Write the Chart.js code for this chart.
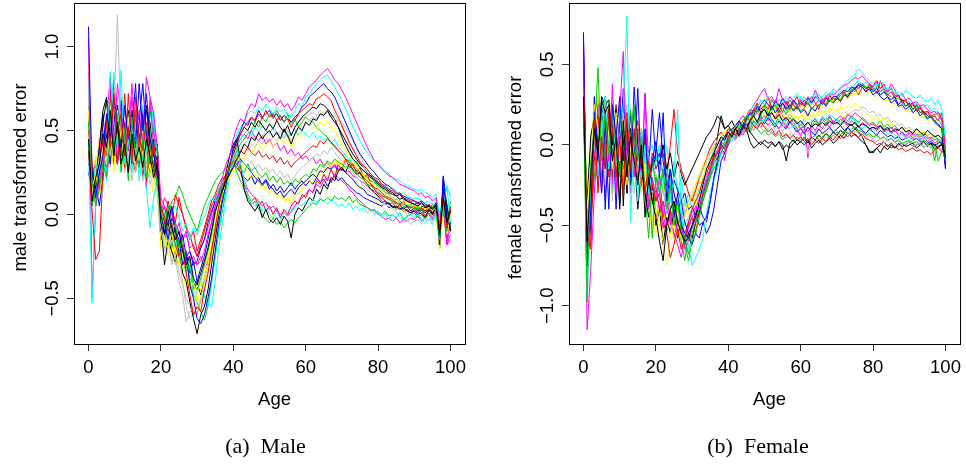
<!DOCTYPE html>
<html>
<head>
<meta charset="utf-8">
<script src="https://cdn.jsdelivr.net/npm/chart.js@4.4.1/dist/chart.umd.min.js"></script>
<style>
  html, body { margin: 0; padding: 0; background: #fff; }
  #wrap { position: relative; width: 966px; height: 465px; overflow: hidden; }
  #male-chart { position: absolute; left: 0; top: 0; }
  #female-chart { position: absolute; left: 495px; top: 0; }
</style>
</head>
<body>
<div id="wrap">
  <canvas id="male-chart" width="472" height="465" style="width:472px;height:465px"></canvas>
  <canvas id="female-chart" width="471" height="465" style="width:471px;height:465px"></canvas>
</div>
<script>
const ages = [
  0, 1, 2, 3, 4, 5, 6, 7, 8, 9, 10, 11, 12, 13, 14, 15, 16, 17, 18, 19,
  20, 21, 22, 23, 24, 25, 26, 27, 28, 29, 30, 31, 32, 33, 34, 35, 36, 37, 38, 39,
  40, 41, 42, 43, 44, 45, 46, 47, 48, 49, 50, 51, 52, 53, 54, 55, 56, 57, 58, 59,
  60, 61, 62, 63, 64, 65, 66, 67, 68, 69, 70, 71, 72, 73, 74, 75, 76, 77, 78, 79,
  80, 81, 82, 83, 84, 85, 86, 87, 88, 89, 90, 91, 92, 93, 94, 95, 96, 97, 98, 99, 100
];
const xTicks = [0, 20, 40, 60, 80, 100];
const maleYTicks = [-0.5, 0, 0.5, 1.0];
const maleYLabels = ['\u22120.5', '0.0', '0.5', '1.0'];
const femaleYTicks = [-1.0, -0.5, 0, 0.5];
const femaleYLabels = ['\u22121.0', '\u22120.5', '0.0', '0.5'];
// R's default palette, cycled by matplot
const lineColors = ['#000000', '#FF0000', '#00CD00', '#0000FF', '#00FFFF', '#FF00FF', '#FFFF00', '#BEBEBE'];

// male transformed error, one curve per year
const male1 = [
  .45, .08, .22, .30, .48, .40, .62, .35, .55, .30,
  .42, .25, .48, .32, .40, .28, .45, .35, .22, .30,
  -.05, -.12, .02, -.08, -.15, -.10, -.22, -.30, -.25, -.38,
  -.42, -.35, -.28, -.20, -.10, .02, .08, .15, .20, .24,
  .28, .33, .37, .42, .40, .46, .44, .49, .45, .48,
  .50, .46, .49, .45, .51, .47, .42, .48, .52, .50,
  .55, .53, .57, .56, .60, .59, .62, .58, .55, .52,
  .46, .41, .37, .33, .31, .28, .26, .24, .22, .20,
  .18, .16, .15, .13, .12, .11, .09, .10, .08, .07,
  .06, .05, .07, .04, .05, .03, .06, -.12, .10, -.05,
  .02
];
const male2 = [
  .38, .02, -.27, -.22, .25, .55, .40, .72, .48, .60,
  .35, .52, .30, .70, .45, .38, .55, .30, .42, .25,
  .05, -.02, -.10, -.05, -.18, -.25, -.20, -.35, -.48, -.60,
  -.55, -.58, -.45, -.35, -.22, -.08, .05, .15, .22, .30,
  .36, .42, .48, .52, .55, .58, .55, .60, .57, .62,
  .58, .60, .56, .59, .55, .57, .52, .56, .60, .62,
  .64, .66, .65, .69, .70, .72, .70, .68, .62, .58,
  .53, .48, .43, .39, .35, .31, .29, .27, .24, .22,
  .21, .18, .17, .15, .14, .12, .13, .10, .09, .08,
  .08, .06, .07, .05, .06, .04, .05, -.10, .12, -.08,
  .04
];
const male3 = [
  .55, .20, .05, .15, .30, .22, .45, .38, .60, .25,
  .50, .20, .58, .35, .28, .45, .22, .40, .30, .18,
  .02, -.08, .05, -.12, -.05, -.20, -.15, -.32, -.28, -.40,
  -.45, -.38, -.30, -.22, -.12, .00, .10, .18, .22, .28,
  .32, .30, .27, .25, .30, .26, .28, .24, .22, .25,
  .20, .23, .19, .22, .18, .20, .17, .21, .19, .22,
  .24, .22, .27, .26, .30, .28, .32, .30, .33, .31,
  .30, .28, .29, .26, .25, .22, .21, .18, .17, .15,
  .13, .12, .10, .09, .08, .06, .07, .05, .04, .05,
  .03, .04, .02, .05, .03, .06, .02, -.15, .08, -.10,
  .05
];
const male4 = [
  1.12, .20, .10, .25, .35, .60, .45, .70, .52, .40,
  .65, .45, .55, .40, .78, .50, .72, .45, .35, .28,
  .00, -.10, -.05, .05, -.10, -.15, -.30, -.25, -.42, -.50,
  -.62, -.65, -.60, -.50, -.38, -.22, -.05, .08, .18, .28,
  .40, .45, .50, .55, .53, .58, .56, .62, .58, .60,
  .62, .58, .60, .56, .59, .57, .55, .58, .60, .64,
  .66, .70, .72, .74, .76, .78, .75, .73, .70, .65,
  .60, .55, .50, .45, .40, .36, .33, .30, .27, .25,
  .22, .20, .18, .17, .15, .13, .12, .11, .10, .09,
  .08, .07, .08, .06, .05, .04, .07, -.18, .23, -.02,
  -.08
];
const male5 = [
  .42, -.53, .10, .28, .35, .20, .85, .55, .40, .86,
  .30, .45, .25, .55, .20, .35, .15, -.08, .10, .22,
  -.05, .02, -.10, .00, .05, -.02, -.10, -.05, -.15, -.08,
  -.12, -.05, -.02, .05, .10, .08, .15, .20, .18, .25,
  .35, .40, .30, .20, .12, .08, .05, .07, .02, .04,
  .00, -.02, .02, -.03, .00, .03, .01, .04, .06, .05,
  .08, .06, .09, .07, .10, .08, .06, .09, .07, .05,
  .06, .04, .07, .03, .05, .02, .04, .01, .03, .00,
  .02, -.02, .01, -.03, .00, -.02, .01, -.04, -.01, .00,
  -.02, .01, -.03, -.05, -.02, -.06, .00, -.10, .05, .17,
  -.05
];
const male6 = [
  1.05, -.50, .05, .20, .35, .55, .82, .40, .78, .60,
  .55, .38, .70, .45, .62, .42, .82, .70, .60, .40,
  .10, .05, -.05, .00, -.08, -.12, -.18, -.22, -.28, -.25,
  -.30, -.28, -.22, -.12, -.05, .05, .12, .22, .30, .35,
  .45, .52, .57, .55, .62, .66, .64, .72, .68, .70,
  .67, .69, .65, .68, .64, .66, .62, .65, .70, .68,
  .72, .76, .78, .80, .83, .85, .87, .84, .80, .78,
  .74, .70, .65, .60, .55, .50, .45, .40, .36, .32,
  .30, .27, .25, .23, .22, .20, .18, .17, .16, .15,
  .14, .12, .13, .10, .11, .08, .10, -.05, .06, -.18,
  -.12
];
const male7 = [
  .62, .15, .25, .10, .40, .30, .50, .25, .62, .45,
  .35, .58, .28, .45, .32, .50, .25, .38, .20, .15,
  -.02, -.15, -.20, -.10, -.25, -.18, -.32, -.28, -.45, -.40,
  -.52, -.45, -.38, -.30, -.18, -.08, .02, .12, .18, .22,
  .28, .32, .35, .33, .38, .36, .40, .42, .38, .41,
  .44, .40, .43, .46, .42, .45, .40, .44, .48, .46,
  .48, .50, .52, .51, .55, .53, .56, .52, .50, .46,
  .42, .38, .35, .31, .28, .26, .23, .21, .19, .17,
  .16, .14, .12, .11, .10, .08, .09, .07, .06, .05,
  .05, .04, .06, .03, .04, .05, .02, -.21, .05, -.12,
  .00
];
const male8 = [
  .70, .10, .20, .35, .25, .45, .35, .60, 1.19, .50,
  .40, .30, .55, .25, .38, .20, .30, .18, .25, .12,
  -.08, -.20, -.15, -.30, -.25, -.40, -.48, -.64, -.58, -.55,
  -.45, -.40, -.30, -.20, -.08, .02, .10, .18, .22, .26,
  .30, .35, .32, .30, .28, .32, .27, .30, .26, .28,
  .25, .27, .23, .26, .22, .24, .20, .23, .26, .28,
  .30, .32, .34, .36, .35, .38, .36, .40, .37, .34,
  .32, .30, .27, .25, .22, .20, .17, .15, .13, .12,
  .10, .08, .06, .05, .03, .02, -.02, -.05, -.03, -.06,
  -.04, -.03, -.06, -.02, -.04, -.01, -.03, -.15, .04, -.08,
  .03
];
const male9 = [
  .30, .25, .15, .40, .62, .70, .45, .30, .65, .40,
  .55, .38, .62, .45, .30, .50, .65, .40, .28, .35,
  -.05, -.30, -.15, -.22, -.28, -.18, -.35, -.40, -.52, -.62,
  -.71, -.60, -.55, -.45, -.30, -.15, .00, .12, .25, .35,
  .42, .45, .30, .15, .08, .05, .02, .06, -.02, .03,
  -.03, -.05, -.02, -.06, -.01, -.04, -.14, .00, .04, .02,
  .06, .10, .08, .15, .12, .18, .15, .22, .20, .26,
  .28, .25, .30, .27, .24, .25, .21, .18, .15, .13,
  .11, .08, .06, .07, .04, .05, .03, .04, .02, .01,
  .02, .00, .01, -.02, .03, .00, .04, -.08, .15, .06,
  -.10
];
const male10 = [
  .50, .30, .05, .18, .32, .28, .50, .42, .30, .55,
  .28, .72, .35, .25, .48, .30, .20, .38, .28, .22,
  .02, -.05, .08, -.02, .12, .05, .00, -.08, -.12, -.20,
  -.25, -.18, -.10, -.02, .05, .10, .15, .20, .24, .27,
  .30, .35, .38, .36, .40, .37, .35, .38, .34, .36,
  .33, .35, .31, .34, .30, .32, .28, .31, .33, .35,
  .37, .39, .41, .40, .44, .42, .45, .43, .41, .38,
  .36, .33, .31, .29, .26, .24, .22, .20, .18, .16,
  .15, .13, .11, .10, .09, .07, .06, .08, .05, .04,
  .05, .03, .04, .02, .04, .01, .05, -.12, .03, -.15,
  .05
];
const male11 = [
  .40, .05, .20, .12, .28, .40, .62, .35, .52, .30,
  .45, .60, .38, .55, .32, .42, .28, .50, .35, .40,
  .00, .05, -.02, .08, .10, .17, .12, .05, .00, -.05,
  -.10, -.02, .05, .10, .15, .20, .23, .25, .28, .30,
  .32, .25, .20, .15, .10, .06, .08, .03, .00, -.03,
  -.05, -.02, -.06, -.04, -.08, -.05, -.03, -.05, -.02, .00,
  .03, .05, .07, .06, .09, .08, .10, .08, .11, .09,
  .10, .08, .11, .07, .09, .06, .05, .04, .02, .03,
  .01, .00, .02, -.01, .00, -.02, .01, -.03, -.01, .00,
  .01, -.02, .00, -.03, .01, -.02, .02, -.15, .12, -.05,
  .08
];
const male12 = [
  .35, .28, .18, .05, .22, .48, .30, .58, .40, .68,
  .45, .50, .62, .40, .55, .78, .48, .35, .45, .20,
  -.10, -.05, -.15, -.02, -.08, -.20, -.12, -.25, -.22, -.30,
  -.28, -.20, -.15, -.05, .02, .08, .12, .18, .22, .25,
  .28, .30, .33, .30, .28, .25, .22, .20, .18, .21,
  .17, .15, .12, .14, .10, .13, .15, .12, .16, .18,
  .20, .22, .24, .22, .26, .25, .28, .27, .29, .26,
  .27, .25, .23, .21, .18, .16, .15, .12, .11, .10,
  .09, .07, .08, .06, .05, .04, .06, .03, .05, .02,
  .04, .02, .03, .01, .03, .00, .05, -.20, .21, .00,
  -.10
];
const male13 = [
  .45, .15, .30, .22, .38, .25, .55, .85, .45, .70,
  .62, .40, .58, .30, .50, .65, .38, .45, .62, .35,
  .05, -.02, -.12, -.05, -.20, -.15, -.28, -.35, -.30, -.45,
  -.50, -.52, -.48, -.55, -.42, -.25, -.08, .05, .18, .28,
  .40, .48, .52, .55, .60, .62, .60, .64, .62, .66,
  .63, .60, .64, .61, .63, .60, .58, .62, .66, .64,
  .70, .72, .75, .78, .80, .82, .83, .80, .76, .72,
  .68, .63, .58, .52, .48, .44, .40, .37, .34, .32,
  .30, .28, .26, .24, .22, .21, .20, .18, .17, .16,
  .15, .14, .15, .13, .12, .10, .12, -.02, .10, .15,
  .12
];
const male14 = [
  .60, .20, .10, .35, .50, .22, .40, .80, .30, .65,
  .40, .55, .28, .60, .35, .45, .15, .68, .50, .38,
  .00, .10, .05, .00, -.05, -.10, -.15, -.12, -.20, -.18,
  -.25, -.20, -.15, -.08, .00, .08, .15, .20, .22, .28,
  .30, .33, .28, .20, .15, .12, .10, .08, .05, .07,
  .03, .05, .02, .00, .01, -.01, .02, .05, .08, .10,
  .12, .15, .13, .18, .16, .20, .22, .19, .24, .22,
  .20, .18, .15, .13, .10, .08, .06, .04, .03, .02,
  .00, -.01, -.03, -.02, -.04, -.02, -.05, -.03, -.04, -.02,
  -.03, -.01, -.04, -.02, .00, -.03, .02, -.10, .08, -.18,
  -.15
];
const male15 = [
  .92, .10, .28, .45, .30, .55, .42, .35, .50, .28,
  .38, .25, .42, .30, .22, .35, .18, .30, .10, .15,
  -.15, -.20, -.12, -.25, -.18, -.30, -.25, -.38, -.42, -.50,
  -.48, -.40, -.32, -.25, -.15, -.05, .05, .12, .18, .22,
  .25, .28, .30, .27, .25, .22, .24, .20, .18, .15,
  .13, .16, .12, .10, .12, .08, .10, .13, .15, .17,
  .20, .18, .22, .25, .23, .27, .30, .28, .32, .30,
  .29, .27, .24, .22, .20, .17, .15, .13, .11, .09,
  .08, .07, .05, .06, .04, .03, .05, .02, .04, .03,
  .04, .02, .03, .05, .02, .04, .01, -.21, .05, -.03,
  .02
];
const male16 = [
  .55, .30, .15, .30, .20, .40, .30, .50, .35, .45,
  .25, .40, .20, .35, .45, .28, .38, .22, .30, .18,
  -.10, -.18, -.10, -.22, -.30, -.25, -.40, -.55, -.62, -.58,
  -.60, -.50, -.40, -.30, -.18, -.05, .05, .15, .22, .28,
  .32, .36, .40, .42, .44, .47, .45, .48, .46, .50,
  .48, .51, .47, .50, .46, .48, .44, .47, .50, .52,
  .54, .56, .58, .57, .60, .59, .61, .58, .57, .55,
  .52, .48, .44, .40, .36, .32, .28, .25, .22, .20,
  .18, .16, .14, .12, .10, .09, .07, .06, -.02, .04,
  .03, .02, .04, .01, .03, -.02, .05, -.10, .08, -.06,
  .05
];
const male17 = [
  .35, .30, .10, .25, .55, .68, .40, .62, .30, .58,
  .45, .62, .35, .50, .60, .40, .62, .55, .35, .42,
  .02, -.12, -.05, -.15, -.08, -.22, -.18, -.35, -.30, -.45,
  -.40, -.48, -.38, -.30, -.20, -.08, .05, .12, .20, .30,
  .38, .44, .48, .52, .50, .55, .52, .56, .53, .50,
  .54, .51, .56, .52, .49, .53, .47, .52, .55, .58,
  .60, .62, .64, .63, .66, .65, .63, .60, .57, .52,
  .48, .44, .40, .36, .33, .30, .28, .25, .23, .21,
  .19, .17, .16, .14, .13, .11, .12, .09, .08, .07,
  .06, .07, .05, .04, .06, .03, .05, -.14, .15, -.04,
  .03
];
const male18 = [
  .60, .25, .30, .15, .45, .35, .72, .50, .65, .35,
  .72, .40, .55, .30, .48, .22, .38, .52, .25, .30,
  -.08, .00, -.12, .05, -.05, .10, .00, -.08, -.15, -.10,
  -.22, -.15, -.08, .00, .08, .12, .18, .22, .20, .28,
  .32, .30, .25, .18, .12, .08, .10, .05, .08, .02,
  .05, .00, .04, -.02, .03, .00, .05, .08, .06, .12,
  .10, .15, .13, .20, .18, .24, .20, .27, .22, .30,
  .26, .33, .28, .30, .25, .28, .22, .24, .18, .15,
  .12, .10, .08, .06, .07, .04, .05, .02, .03, .01,
  .02, .00, .03, -.01, .02, .00, .04, -.12, .10, -.08,
  .04
];
const male19 = [
  .65, .05, .15, .30, .20, .50, .35, .65, .40, .55,
  .30, .58, .45, .62, .38, .55, .42, .62, .48, .35,
  .05, -.15, -.08, -.20, -.12, -.25, -.32, -.28, -.40, -.48,
  -.52, -.58, -.63, -.55, -.40, -.25, -.10, .02, .15, .25,
  .32, .38, .42, .45, .48, .50, .55, .52, .58, .55,
  .60, .57, .62, .58, .55, .60, .54, .57, .52, .55,
  .58, .56, .55, .52, .50, .48, .46, .43, .40, .38,
  .36, .33, .32, .30, .28, .25, .23, .22, .20, .19,
  .17, .15, .13, .12, .10, .09, .08, .06, .05, .06,
  .04, .05, .03, .02, .04, .01, .03, -.10, .06, .02,
  -.08
];
const male20 = [
  .25, .15, .25, .40, .60, .35, .75, .45, .30, .62,
  .40, .28, .50, .78, .35, .60, .40, .25, .38, .15,
  -.15, -.05, -.20, -.10, -.25, -.15, -.30, -.22, -.35, -.28,
  -.40, -.32, -.25, -.15, -.05, .05, .10, .18, .20, .26,
  .30, .28, .25, .22, .20, .23, .18, .22, .17, .20,
  .15, .18, .14, .17, .13, .16, .19, .15, .18, .20,
  .17, .20, .18, .22, .19, .21, .17, .20, .23, .20,
  .22, .19, .17, .15, .13, .12, .10, .09, .08, .07,
  .06, .05, .07, .04, .05, .03, .04, .02, .03, .01,
  .03, .01, .04, .02, .05, .01, .03, -.19, .22, .05,
  -.06
];
const male21 = [
  .80, .10, .32, .20, .45, .30, .60, .40, .70, .35,
  .55, .30, .45, .62, .28, .50, .35, .70, .55, .38,
  .00, -.10, -.05, -.18, -.12, -.22, -.28, -.25, -.38, -.42,
  -.45, -.40, -.48, -.52, -.55, -.40, -.20, -.05, .10, .22,
  .32, .40, .45, .48, .50, .47, .52, .49, .53, .50,
  .48, .52, .49, .45, .50, .46, .48, .51, .47, .50,
  .48, .46, .49, .45, .47, .44, .46, .42, .45, .40,
  .38, .35, .33, .30, .32, .28, .26, .25, .22, .21,
  .20, .18, .17, .15, .16, .14, .12, .13, .11, .10,
  .09, .10, .08, .07, .08, .06, .09, .00, .12, .17,
  .10
];
const male22 = [
  .85, .30, .20, .45, .30, .60, .45, .82, .55, .40,
  .65, .45, .78, .50, .38, .62, .45, .68, .40, .28,
  -.02, .05, -.08, .02, -.12, -.05, -.15, -.10, -.22, -.28,
  -.30, -.25, -.32, -.28, -.20, -.10, .00, .10, .18, .25,
  .35, .42, .45, .48, .45, .50, .46, .44, .47, .42,
  .45, .40, .43, .38, .41, .36, .39, .35, .37, .33,
  .35, .32, .34, .30, .33, .29, .31, .28, .30, .27,
  .28, .25, .26, .23, .22, .20, .19, .17, .15, .14,
  .13, .11, .10, .09, .08, .07, .06, .07, .05, .04,
  .05, .03, .04, .02, .03, .01, .02, -.12, .05, -.18,
  -.05
];
const male23 = [
  .50, .20, .35, .25, .50, .40, .68, .30, .58, .42,
  .30, .48, .25, .40, .55, .32, .45, .28, .35, .22,
  -.20, -.12, -.25, -.18, -.30, -.22, -.35, -.45, -.40, -.50,
  -.55, -.50, -.42, -.35, -.25, -.12, .00, .10, .16, .24,
  .30, .34, .32, .28, .25, .22, .18, .20, .15, .17,
  .12, .14, .10, .12, .08, .10, .07, .10, .13, .15,
  .18, .20, .22, .25, .23, .27, .26, .30, .28, .32,
  .30, .33, .31, .28, .30, .26, .24, .22, .19, .16,
  .14, .12, .10, .09, .07, .06, .05, .04, .05, .03,
  .04, .02, .03, .01, .02, .04, .00, -.21, .02, -.10,
  .03
];
const male24 = [
  .40, .20, .28, .15, .35, .50, .28, .45, .60, .38,
  .52, .32, .45, .28, .40, .35, .25, .42, .30, .20,
  -.12, -.22, -.15, -.28, -.20, -.35, -.42, -.50, -.55, -.60,
  -.58, -.52, -.45, -.35, -.22, -.10, .02, .12, .20, .26,
  .30, .35, .38, .40, .38, .42, .40, .44, .42, .45,
  .43, .46, .44, .48, .45, .50, .47, .52, .55, .57,
  .58, .60, .61, .59, .62, .60, .61, .58, .60, .56,
  .55, .52, .48, .44, .40, .35, .30, .27, .24, .21,
  .19, .16, .14, .12, .10, .09, .07, .06, .05, .04,
  .03, .02, .00, -.02, .01, -.04, .02, -.08, .05, -.03,
  .00
];

// female transformed error, one curve per year
const female1 = [
  .30, -.60, -.20, .10, -.05, .28, .20, .25, -.10, .05,
  -.38, .15, -.20, .05, -.10, -.25, .00, -.45, -.20, -.35,
  -.45, -.60, -.72, -.50, -.40, -.35, -.48, -.55, -.60, -.58,
  -.50, -.45, -.35, -.25, -.15, -.10, -.05, .00, .05, .03,
  .08, .05, .10, .06, .12, .10, .15, .18, .14, .20,
  .22, .18, .20, .16, .19, .15, .17, .14, .16, .13,
  .15, .12, .14, .11, .13, .12, .14, .12, .15, .13,
  .14, .12, .15, .13, .12, .14, .11, .13, .12, .10,
  .11, .10, .12, .09, .11, .08, .10, .09, .11, .08,
  .09, .07, .10, .08, .06, .09, .07, .05, .06, .04,
  -.08
];
const female2 = [
  .45, -.55, -.65, .15, -.30, .05, -.15, .22, .10, -.20,
  .05, -.30, .20, -.15, .10, -.22, -.05, -.30, -.10, -.25,
  -.35, -.30, -.48, -.55, -.70, -.62, -.52, -.65, -.58, -.48,
  -.40, -.35, -.30, -.22, -.18, -.12, -.08, -.05, .00, -.03,
  .05, .08, .06, .10, .12, .08, .15, .12, .10, .14,
  .11, .08, .10, .06, .09, .05, .07, .04, .06, .03,
  .05, .02, .04, .00, .03, .01, .04, .02, .05, .03,
  .06, .04, .07, .05, .08, .06, .05, .07, .04, .03,
  .02, .00, .01, -.01, .00, -.02, -.01, -.03, -.02, -.04,
  -.03, -.02, -.04, -.03, -.05, -.04, -.06, -.03, -.02, -.04,
  -.06
];
const female3 = [
  .25, -.98, -.10, .05, .48, -.10, .20, -.05, .15, .00,
  -.20, .10, -.15, .05, .25, -.10, .05, -.30, -.15, -.58,
  -.20, -.30, -.15, -.40, -.25, -.50, -.35, -.55, -.62, -.72,
  -.60, -.55, -.45, -.35, -.28, -.20, -.15, -.10, -.05, .00,
  .03, .08, .12, .10, .15, .18, .14, .20, .22, .18,
  .24, .20, .22, .25, .21, .23, .19, .24, .22, .25,
  .21, .23, .26, .22, .25, .24, .27, .25, .28, .26,
  .30, .28, .32, .31, .35, .33, .36, .38, .35, .37,
  .34, .36, .33, .35, .31, .30, .28, .29, .26, .24,
  .25, .22, .24, .20, .19, .17, .18, .15, .16, .12,
  -.10
];
const female4 = [
  .70, -.75, -.40, .20, .00, -.30, .15, -.40, .25, .05,
  .30, -.10, .15, -.20, .36, .00, -.15, .10, -.25, -.10,
  .02, -.20, .20, -.35, -.15, -.45, -.30, -.50, -.55, -.58,
  -.62, -.55, -.58, -.48, -.45, -.35, -.20, -.10, .02, .05,
  .08, .10, .12, .15, .10, .16, .20, .18, .24, .20,
  .22, .18, .24, .20, .23, .26, .22, .25, .21, .24,
  .20, .22, .18, .23, .21, .25, .27, .24, .28, .26,
  .29, .27, .31, .30, .33, .35, .37, .36, .33, .35,
  .31, .33, .30, .28, .30, .26, .28, .24, .25, .22,
  .24, .20, .22, .18, .20, .16, .18, .14, .12, .10,
  -.15
];
const female5 = [
  .40, -.95, -.30, .10, -.20, .15, .30, -.05, .20, -.10,
  .05, .25, .80, -.48, .05, -.10, -.20, .00, -.30, -.15,
  -.10, .00, -.25, -.15, -.35, -.20, .22, -.45, -.55, -.62,
  -.75, -.70, -.65, -.58, -.42, -.30, -.22, -.15, -.05, .00,
  .05, .02, .08, .12, .10, .15, .20, .25, .22, .28,
  .25, .30, .27, .24, .28, .26, .30, .27, .29, .32,
  .28, .30, .26, .29, .32, .27, .30, .33, .31, .35,
  .33, .36, .38, .40, .42, .44, .47, .45, .42, .40,
  .38, .36, .40, .37, .34, .35, .32, .33, .30, .34,
  .32, .30, .29, .31, .28, .27, .29, .25, .28, .22,
  .05
];
const female6 = [
  .68, -1.15, -.78, -.30, .05, -.20, .25, -.10, .38, -.30,
  .20, .58, -.15, .05, -.20, .10, -.25, .32, -.40, -.20,
  -.35, -.20, -.45, -.30, -.50, -.40, -.55, -.48, -.65, -.60,
  -.52, -.45, -.38, -.30, -.22, -.15, -.08, -.03, .02, -.10,
  .05, .08, .12, .15, .18, .16, .20, .25, .28, .32,
  .35, .28, .30, .26, .35, .28, .25, .30, .27, .24,
  .28, .25, .30, .27, .34, .29, .26, .30, .32, .31,
  .33, .35, .37, .38, .40, .42, .41, .43, .40, .38,
  .36, .39, .35, .37, .33, .38, .34, .30, .32, .28,
  .29, .26, .27, .24, .25, .22, .20, .21, .18, .15,
  -.05
];
const female7 = [
  .35, -.40, -.10, .25, .10, -.20, .28, .05, -.15, .20,
  -.10, .15, -.25, .00, -.15, .12, -.30, -.10, -.35, -.55,
  -.40, -.50, -.60, -.74, -.55, -.48, -.40, -.50, -.45, -.38,
  -.30, -.25, -.18, -.12, -.08, -.05, .00, .03, .05, .08,
  .06, .10, .08, .12, .15, .13, .18, .16, .20, .22,
  .19, .22, .18, .21, .17, .20, .16, .19, .15, .18,
  .17, .20, .16, .19, .18, .21, .19, .22, .20, .23,
  .21, .24, .22, .25, .23, .26, .24, .22, .20, .18,
  .16, .18, .15, .17, .14, .12, .13, .11, .10, .09,
  .10, .08, .09, .07, .08, .06, .05, .07, .04, .03,
  -.05
];
const female8 = [
  .28, -.50, -.20, .00, -.15, .10, -.25, .05, -.35, .15,
  -.05, .20, -.10, .00, -.30, -.08, -.20, -.12, -.25, -.30,
  -.22, -.35, -.28, -.40, -.32, -.45, -.38, -.50, -.42, -.35,
  -.30, -.25, -.20, -.15, -.10, -.06, -.02, .00, .03, .02,
  .05, .04, .07, .05, .08, .10, .12, .09, .13, .11,
  .08, .10, .07, .09, .06, .08, .04, .07, .05, .03,
  .05, .02, -.05, .03, .01, .04, .02, .05, .03, .06,
  .04, .07, .05, .08, .06, .09, .07, .05, .04, .06,
  .03, .02, .04, .01, .03, .00, .02, -.01, .01, .00,
  .02, -.01, .00, .01, -.02, .00, -.01, -.03, -.02, -.04,
  -.08
];
const female9 = [
  .20, -.35, .05, .18, -.10, .30, .25, .28, .00, .22,
  -.40, .05, -.30, .10, -.15, -.05, -.22, -.10, -.20, -.15,
  -.08, -.12, .00, -.15, -.05, -.20, -.10, -.18, -.25, -.20,
  -.15, -.10, -.05, .00, .05, .08, .12, .18, .15, .10,
  .12, .08, .10, .13, .10, .14, .08, .05, .02, .00,
  .03, .01, .02, -.01, .02, .00, -.10, .01, .03, .00,
  .02, .00, .03, -.02, .01, .03, .00, .02, .04, .01,
  .03, .06, .04, .08, .05, .07, .04, .02, .00, -.04,
  -.05, -.02, .00, .02, -.01, .01, -.02, .00, .01, -.01,
  .00, .01, -.02, .00, .02, -.01, .01, .00, -.02, .01,
  -.10
];
const female10 = [
  .55, -.65, -.62, .12, .18, -.05, .10, .15, -.20, .25,
  -.15, .10, .05, -.20, .00, .15, -.10, .05, -.25, -.05,
  -.15, -.10, -.05, -.20, .00, .22, -.05, -.15, -.22, -.30,
  -.35, -.28, -.20, -.15, -.08, -.02, .02, .05, .08, .05,
  .10, .08, .12, .15, .13, .18, .22, .20, .26, .22,
  .25, .22, .28, .24, .20, .26, .23, .28, .25, .22,
  .26, .24, .27, .22, .25, .28, .26, .30, .27, .29,
  .28, .31, .33, .30, .34, .36, .35, .38, .36, .34,
  .37, .40, .35, .38, .33, .35, .31, .30, .28, .27,
  .25, .26, .22, .24, .20, .21, .18, .19, .20, .16,
  -.02
];
const female11 = [
  .50, -.45, -.30, .05, .20, .10, -.10, .18, -.05, .12,
  .02, -.15, .05, .22, -.08, .10, -.12, .00, -.20, -.10,
  -.25, -.18, -.30, -.22, -.40, -.35, -.50, -.45, -.58, -.68,
  -.55, -.48, -.40, -.32, -.25, -.18, -.10, -.05, -.02, .02,
  .05, .08, .06, .09, .11, .10, .08, .12, .10, .07,
  .09, .06, .08, .05, .07, .03, .06, .04, .02, .05,
  .03, .05, .02, .04, .06, .03, .05, .07, .04, .06,
  .08, .06, .09, .07, .10, .11, .09, .08, .06, .07,
  .05, .06, .04, .05, .03, .04, .02, .03, .01, .02,
  .03, .01, .02, .00, .03, .01, -.02, .00, -.10, -.04,
  -.06
];
const female12 = [
  .65, -.70, -.50, .30, -.10, .00, -.15, .22, .15, -.40,
  .10, -.05, -.20, .20, -.10, .35, -.20, .05, -.28, -.12,
  -.05, .20, -.10, -.25, -.15, -.30, -.40, -.35, -.48, -.55,
  -.50, -.42, -.38, -.45, -.48, -.35, -.22, -.12, -.05, .00,
  .03, .06, .10, .08, .12, .15, .18, .22, .20, .25,
  .28, .25, .22, .27, .24, .29, .26, .23, .28, .25,
  .27, .24, .29, .26, .30, .28, .25, .29, .27, .30,
  .30, .32, .34, .33, .36, .35, .38, .37, .35, .36,
  .33, .35, .31, .33, .30, .28, .30, .25, .28, .24,
  .26, .22, .25, .20, .21, .18, .17, .15, .13, .10,
  -.15
];
const female13 = [
  .50, -.85, -.35, .10, -.20, .05, .30, -.15, .20, .10,
  .25, -.10, .15, -.20, .05, -.35, .10, -.15, -.05, -.25,
  -.20, -.35, -.28, -.42, -.30, -.38, -.45, -.40, -.50, -.45,
  -.40, -.35, -.30, -.28, -.22, -.18, -.12, -.05, .00, .03,
  .05, .08, .06, .10, .08, .12, .10, .14, .12, .16,
  .14, .18, .15, .12, .16, .13, .17, .14, .11, .15,
  .12, .16, .13, .15, .17, .14, .18, .16, .19, .17,
  .15, .13, .16, .14, .17, .15, .12, .10, .12, .09,
  .10, .08, .11, .09, .07, .08, .06, .05, .07, .04,
  .05, .03, .06, .04, .02, .05, .03, .06, .02, .03,
  -.04
];
const female14 = [
  .60, -.90, -.20, -.05, .25, -.30, .00, .15, -.25, .05,
  -.10, .10, -.30, .00, -.15, .05, -.20, .32, -.10, -.30,
  -.25, -.40, -.35, -.50, -.45, -.55, -.62, -.70, -.58, -.52,
  -.45, -.40, -.33, -.28, -.20, -.15, -.10, -.05, -.02, .00,
  .04, .08, .05, .10, .08, .12, .15, .18, .20, .16,
  .18, .15, .20, .17, .22, .18, .15, .19, .16, .14,
  .10, .12, -.08, .14, .16, .13, .17, .15, .18, .14,
  .16, .18, .15, .19, .17, .20, .18, .16, .14, .12,
  .13, .11, .12, .10, .09, .11, .08, .10, .07, .06,
  .08, .06, .07, .05, .06, .04, .05, .03, .04, .02,
  -.03
];
const female15 = [
  .45, -.55, -.30, .15, .30, .05, -.20, .28, .10, -.15,
  .05, -.25, .10, -.10, .15, -.05, .05, -.20, -.10, -.55,
  -.30, -.45, -.38, -.52, -.45, -.60, -.50, -.58, -.52, -.45,
  -.40, -.32, -.25, -.20, -.15, -.10, -.05, .00, .05, .08,
  .10, .08, .12, .10, .15, .18, .20, .17, .22, .25,
  .22, .25, .20, .24, .21, .26, .23, .20, .24, .22,
  .25, .22, .26, .24, .21, .25, .23, .27, .25, .28,
  .26, .29, .31, .28, .33, .31, .34, .32, .30, .33,
  .31, .29, .30, .27, .28, .25, .26, .23, .24, .21,
  .22, .19, .20, .17, .18, .15, .16, .13, .12, .09,
  -.08
];
const female16 = [
  .30, -.60, -.35, .00, .20, -.10, .15, -.05, .30, .10,
  -.20, .05, .25, -.10, .00, -.15, .10, -.05, -.20, -.10,
  -.18, -.25, -.20, -.32, -.28, -.40, -.35, -.30, -.42, -.38,
  -.32, -.28, -.22, -.15, -.10, -.05, .00, .02, .05, .04,
  .08, .06, .10, .08, .12, .10, .14, .12, .15, .13,
  .16, .13, .15, .12, .14, .11, .13, .10, .12, .09,
  .11, .08, .06, .10, .07, .12, .09, .11, .14, .12,
  .15, .13, .16, .18, .20, .22, .21, .24, .22, .20,
  .21, .18, .19, .16, .17, .14, .15, .12, .13, .10,
  .11, .09, .10, .07, .08, .06, .07, .05, .04, .03,
  -.06
];
const female17 = [
  .25, -.70, -.40, .20, .28, .15, .30, .10, .25, -.20,
  .15, -.38, .10, -.25, -.05, -.40, -.15, -.30, -.45, -.25,
  -.50, -.40, -.62, -.45, -.55, -.40, -.58, -.50, -.62, -.55,
  -.58, -.48, -.42, -.30, -.25, -.15, -.08, .05, .18, .10,
  .12, .15, .10, .05, .08, .10, .02, -.02, .00, .02,
  .00, -.02, .01, -.01, .02, -.03, .00, -.02, .01, .03,
  .02, .04, .01, .05, .03, .06, .04, .07, .05, .08,
  .06, .09, .07, .11, .13, .10, .08, .05, .00, -.05,
  -.04, -.02, -.05, -.01, -.03, .00, -.02, .01, -.01, .00,
  .02, -.01, .00, .01, -.02, .00, .01, -.03, -.01, .00,
  -.05
];
const female18 = [
  .40, -.62, -.50, -.10, .15, .00, .25, -.20, .05, .18,
  -.10, .20, -.05, .10, -.20, .05, -.15, .00, -.20, -.35,
  -.28, -.40, -.35, -.50, -.42, -.58, -.48, -.55, -.62, -.50,
  -.45, -.55, -.40, -.30, -.22, -.18, -.05, -.10, .02, .00,
  .06, .10, .08, .14, .12, .18, .15, .22, .26, .20,
  .24, .30, .22, .28, .25, .20, .27, .22, .26, .30,
  .24, .28, .25, .30, .26, .22, .29, .25, .31, .27,
  .30, .27, .33, .29, .32, .35, .31, .36, .33, .38,
  .35, .32, .40, .34, .31, .33, .29, .31, .26, .28,
  .24, .25, .21, .23, .19, .20, .17, .18, .15, .20,
  -.08
];
const female19 = [
  .30, -.80, -.45, -.20, .05, .20, -.10, .10, -.30, .25,
  .00, -.25, .10, -.15, .22, -.05, .10, -.30, -.58, -.25,
  -.30, -.45, -.35, -.55, -.40, -.50, -.45, -.60, -.72, -.55,
  -.62, -.48, -.40, -.35, -.25, -.18, -.10, -.05, .00, -.02,
  .02, .06, .04, .10, .08, .12, .10, .15, .12, .18,
  .15, .20, .16, .13, .18, .15, .12, .17, .14, .10,
  .13, .10, .14, .11, .15, .12, .16, .13, .17, .14,
  .16, .13, .17, .15, .18, .16, .14, .17, .15, .13,
  .14, .12, .15, .11, .13, .10, .12, .09, .11, .08,
  .09, .07, .10, .06, .08, .05, .03, -.10, .04, .02,
  -.08
];
const female20 = [
  .55, -.60, -.30, .10, -.15, .25, -.40, .05, -.25, .10,
  -.05, .35, -.20, .10, -.15, .05, -.30, .00, -.15, .22,
  -.10, -.05, -.20, -.15, -.30, -.22, -.28, -.35, -.30, -.40,
  -.38, -.45, -.50, -.48, -.55, -.50, -.40, -.25, -.10, -.05,
  .00, .05, .08, .05, .10, .13, .10, .15, .12, .16,
  .13, .17, .14, .11, .15, .12, .10, .14, .11, .08,
  .10, .07, .11, .08, .06, .10, .07, .09, .11, .08,
  .10, .12, .09, .11, .08, .10, .12, .09, .07, .10,
  .08, .06, .09, .07, .05, .06, .04, .05, .03, .04,
  .05, .03, .04, .02, .03, .01, .02, .00, .01, .02,
  -.12
];
const female21 = [
  .35, -.48, -.20, .15, -.10, .30, -.05, .20, .00, .15,
  -.15, .10, -.30, .05, -.20, .00, -.10, .10, -.05, .00,
  -.15, -.05, -.20, .00, -.25, -.10, -.30, -.20, -.38, -.30,
  -.40, -.32, -.28, -.22, -.15, -.10, -.03, .00, .04, .02,
  .07, .05, .10, .08, .13, .16, .12, .18, .15, .20,
  .22, .18, .25, .20, .23, .27, .21, .25, .28, .24,
  .30, .26, .29, .25, .28, .32, .27, .31, .29, .33,
  .30, .34, .32, .36, .35, .38, .40, .37, .39, .36,
  .34, .38, .33, .35, .32, .36, .30, .31, .28, .26,
  .27, .24, .26, .22, .24, .25, .21, .23, .20, .19,
  .02
];
const female22 = [
  .58, -.82, -.45, .00, -.25, .10, -.35, .20, -.10, .05,
  -.20, .25, -.05, -.30, .10, -.15, .05, -.25, -.40, -.20,
  -.45, -.38, -.52, -.40, -.48, -.35, -.50, -.42, -.55, -.48,
  -.42, -.38, -.45, -.32, -.28, -.20, -.12, -.08, -.02, -.05,
  .02, .05, .03, .08, .06, .10, .12, .09, .14, .11,
  .15, .12, .16, .13, .10, .14, .11, .15, .12, .09,
  .06, .10, .08, .12, .09, .13, .10, .14, .11, .15,
  .13, .16, .14, .12, .15, .13, .11, .14, .12, .10,
  .11, .09, .12, .08, .10, .07, .09, .06, .08, .05,
  .07, .04, .06, .03, .05, .02, .04, .01, .03, .00,
  -.10
];
const female23 = [
  .32, -.45, -.15, .30, .05, -.25, .15, -.10, .25, -.05,
  .10, -.20, .05, .20, -.15, .00, -.25, -.10, -.35, -.45,
  -.55, -.48, -.60, -.50, -.45, -.52, -.40, -.48, -.35, -.42,
  -.32, -.38, -.25, -.20, -.12, -.15, -.05, .00, .05, .02,
  .08, .05, .10, .12, .09, .15, .12, .18, .14, .20,
  .17, .21, .18, .15, .20, .16, .19, .22, .18, .15,
  .19, .16, .20, .17, .22, .18, .21, .19, .23, .20,
  .22, .19, .17, .20, .18, .15, .13, .16, .14, .12,
  .13, .11, .09, .12, .10, .08, .09, .07, .08, .06,
  .07, .05, .06, .04, .05, .03, .02, .04, .01, .03,
  -.05
];
const female24 = [
  .22, -.40, .00, .20, -.20, .05, .25, -.15, .10, -.30,
  .15, -.10, .00, -.25, .10, -.05, -.15, .05, -.30, -.10,
  -.20, -.28, -.15, -.35, -.25, -.30, -.40, -.32, -.45, -.38,
  -.35, -.28, -.30, -.20, -.15, -.08, -.05, .00, .02, .06,
  .04, .08, .06, .10, .07, .12, .09, .13, .11, .15,
  .12, .10, .13, .09, .11, .08, .12, .09, .06, .10,
  .05, .08, -.04, .06, .09, .05, .08, .06, .10, .07,
  .09, .06, .08, .10, .07, .09, .11, .08, .06, .05,
  .04, .06, .03, .05, .02, .04, .01, .03, .00, .02,
  .01, .03, .00, .02, -.01, .01, .00, -.02, .01, -.03,
  -.06
];

const maleCurves = [male1, male2, male3, male4, male5, male6, male7, male8,
  male9, male10, male11, male12, male13, male14, male15, male16,
  male17, male18, male19, male20, male21, male22, male23, male24];
const femaleCurves = [female1, female2, female3, female4, female5, female6, female7, female8,
  female9, female10, female11, female12, female13, female14, female15, female16,
  female17, female18, female19, female20, female21, female22, female23, female24];

const SANS = '"Liberation Sans", Arial, Helvetica, sans-serif';
const SERIF = '"Liberation Serif", "Times New Roman", serif';

// R-style box, rotated y labels, titles and the subfigure caption
function rDecor(opts) {
  return {
    id: 'rDecor',
    afterDraw(chart) {
      const { ctx, chartArea: a, scales: { x, y } } = chart;
      ctx.save();
      ctx.strokeStyle = '#000';
      ctx.lineWidth = 1;
      ctx.strokeRect(Math.round(a.left) + 0.5, Math.round(a.top) + 0.5,
        Math.round(a.right - a.left), Math.round(a.bottom - a.top));

      ctx.fillStyle = '#000';
      ctx.font = `18.5px ${SANS}`;
      ctx.textAlign = 'center';
      ctx.textBaseline = 'alphabetic';
      xTicks.forEach(v => ctx.fillText(String(v), x.getPixelForValue(v), 373));
      ctx.fillText('Age', (a.left + a.right) / 2 + 5, 405);

      opts.yTicks.forEach((v, i) => {
        ctx.save();
        ctx.translate(57.5, y.getPixelForValue(v));
        ctx.rotate(-Math.PI / 2);
        ctx.fillText(opts.yLabels[i], 0, 0);
        ctx.restore();
      });

      ctx.save();
      ctx.translate(26, (a.top + a.bottom) / 2 + 4);
      ctx.rotate(-Math.PI / 2);
      ctx.fillText(opts.yTitle, 0, 0);
      ctx.restore();

      ctx.font = `22px ${SERIF}`;
      ctx.fillText(opts.caption, opts.captionX, 453);
      ctx.restore();
    }
  };
}

function makePanel(canvasId, curves, opts) {
  const datasets = curves.map((vals, i) => ({
    data: vals.map((v, j) => ({ x: ages[j], y: v })),
    borderColor: lineColors[i % lineColors.length],
    borderWidth: 1,
    pointRadius: 0,
    fill: false,
    tension: 0,
  }));
  return new Chart(document.getElementById(canvasId), {
    type: 'line',
    data: { datasets },
    options: {
      responsive: false,
      animation: false,
      devicePixelRatio: 1,
      layout: { padding: { top: 3, right: opts.padRight, left: 0, bottom: 0 } },
      plugins: { legend: { display: false }, tooltip: { enabled: false } },
      scales: {
        x: {
          type: 'linear', min: -4, max: 104,
          afterBuildTicks: s => { s.ticks = xTicks.map(v => ({ value: v })); },
          afterFit: s => { s.height = 121; },
          ticks: { display: false },
          grid: { drawOnChartArea: false, drawTicks: true, tickLength: 7, color: '#333' },
          border: { display: false },
        },
        y: {
          type: 'linear', min: opts.yMin, max: opts.yMax,
          afterBuildTicks: s => { s.ticks = opts.yTicks.map(v => ({ value: v })); },
          afterFit: s => { s.width = 74; },
          ticks: { display: false },
          grid: { drawOnChartArea: false, drawTicks: true, tickLength: 7, color: '#333' },
          border: { display: false },
        },
      },
    },
    plugins: [rDecor(opts)],
  });
}

makePanel('male-chart', maleCurves, {
  yMin: -0.772, yMax: 1.26, yTicks: maleYTicks, yLabels: maleYLabels,
  yTitle: 'male transformed error', caption: '(a)  Male', captionX: 265.5, padRight: 7,
});
makePanel('female-chart', femaleCurves, {
  yMin: -1.238, yMax: 0.882, yTicks: femaleYTicks, yLabels: femaleYLabels,
  yTitle: 'female transformed error', caption: '(b)  Female', captionX: 263, padRight: 6,
});
</script>
</body>
</html>
